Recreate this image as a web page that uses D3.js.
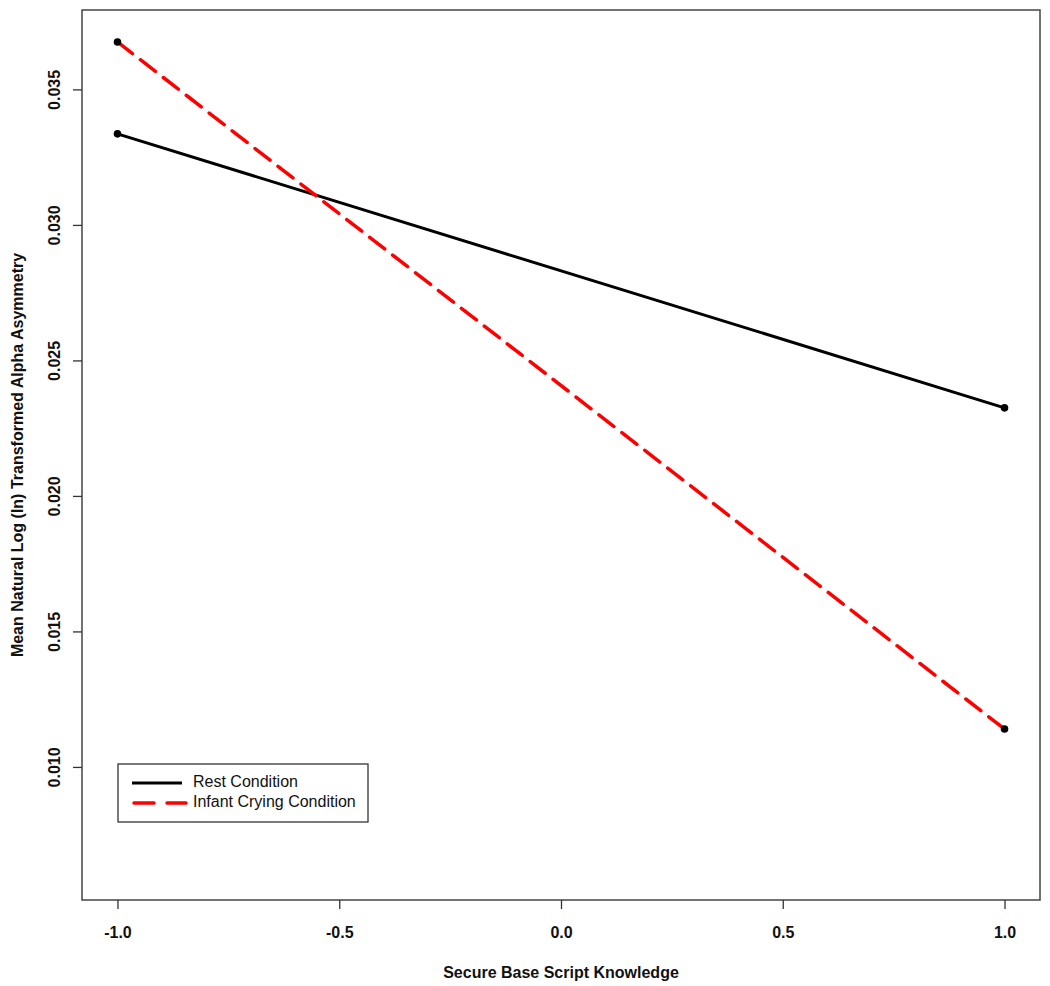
<!DOCTYPE html>
<html><head><meta charset="utf-8">
<script src="https://cdn.jsdelivr.net/npm/d3@7"></script>
<style>body{margin:0;background:#fff}</style>
</head><body>
<svg id="c" width="1050" height="986"></svg>
<script>
const xVals = [-1, 1];
const restValues = [0.03336, 0.02325];
const cryingValues = [0.03675, 0.0114];
const xTicks = [-1.0, -0.5, 0.0, 0.5, 1.0];
const yTicks = [0.010, 0.015, 0.020, 0.025, 0.030, 0.035];
const seriesNames = ["Rest Condition", "Infant Crying Condition"];
const seriesColors = ["#000000", "#ff0000"];

const svg = d3.select("#c");
const L = 82, R = 1040, T = 10, B = 900;
const x = d3.scaleLinear().domain([-1.08, 1.08]).range([L, R]);
const y = d3.scaleLinear().domain([0.00509, 0.03793]).range([B, T]);
const font = "'Liberation Sans', Arial, Helvetica, sans-serif";
const FS = 16;

// box
svg.append("rect").attr("x", L).attr("y", T).attr("width", R - L).attr("height", B - T)
  .attr("fill", "none").attr("stroke", "#444").attr("stroke-width", 1.5);

// x axis
const xa = svg.append("g").attr("transform", `translate(0,${B})`)
  .call(d3.axisBottom(x).tickValues(xTicks).tickSize(9).tickPadding(19)
    .tickFormat(d => d3.format(".1f")(d).replace("\u2212", "-")));
xa.select(".domain").remove();
xa.selectAll("line").attr("stroke", "#333").attr("stroke-width", 1.3);
xa.selectAll("text").attr("font-family", font).attr("font-weight", "bold").attr("font-size", FS).attr("fill", "#111")
  .attr("dy", "0.6em");

// y axis
const ya = svg.append("g").attr("transform", `translate(${L},0)`)
  .call(d3.axisLeft(y).tickValues(yTicks).tickSize(9).tickFormat(d3.format(".3f")));
ya.select(".domain").remove();
ya.selectAll("line").attr("stroke", "#333").attr("stroke-width", 1.3);
ya.selectAll("text").attr("font-family", font).attr("font-weight", "bold").attr("font-size", FS).attr("fill", "#111")
  .attr("x", null).attr("dy", null).attr("text-anchor", "middle")
  .attr("transform", "translate(-26,0) rotate(-90)").attr("dominant-baseline", "middle");

// axis titles
svg.append("text").attr("x", (x(-1) + x(1)) / 2).attr("y", 978).attr("text-anchor", "middle")
  .attr("font-family", font).attr("font-weight", "bold").attr("font-size", FS).attr("fill", "#111")
  .text("Secure Base Script Knowledge");
svg.append("text").attr("transform", `translate(19,${(T + B) / 2}) rotate(-90)`).attr("text-anchor", "middle")
  .attr("dominant-baseline", "middle")
  .attr("font-family", font).attr("font-weight", "bold").attr("font-size", FS).attr("fill", "#111")
  .text("Mean Natural Log (ln) Transformed Alpha Asymmetry");

// lines
const line = d3.line().x((d, i) => x(xVals[i])).y(d => y(d));
svg.append("path").datum(restValues).attr("d", line).attr("fill", "none")
  .attr("stroke", seriesColors[0]).attr("stroke-width", 3).attr("stroke-linecap", "round");
svg.append("path").datum(cryingValues).attr("d", line).attr("fill", "none")
  .attr("stroke", seriesColors[1]).attr("stroke-width", 3.5).attr("stroke-linecap", "round")
  .attr("stroke-dasharray", "19 10");

// points
[restValues, cryingValues].forEach(vals => {
  svg.selectAll(null).data(vals).enter().append("circle")
    .attr("cx", (d, i) => x(xVals[i])).attr("cy", d => y(d)).attr("r", 3.8).attr("fill", "#000");
});

// legend
const lg = svg.append("g");
lg.append("rect").attr("x", 118).attr("y", 764).attr("width", 250).attr("height", 58)
  .attr("fill", "#fff").attr("stroke", "#333").attr("stroke-width", 1.3);
seriesNames.forEach((n, i) => {
  const yy = 783 + i * 20;
  lg.append("line").attr("x1", i ? 134 : 132).attr("x2", i ? 186 : 182).attr("y1", yy).attr("y2", yy)
    .attr("stroke", seriesColors[i]).attr("stroke-width", i ? 3.5 : 3)
    .attr("stroke-linecap", i ? "round" : "butt")
    .attr("stroke-dasharray", i ? "20 13" : null);
  lg.append("text").attr("x", 193).attr("y", yy).attr("dominant-baseline", "middle")
    .attr("font-family", font).attr("font-size", FS).attr("fill", "#111").text(n);
});
</script>
</body></html>
